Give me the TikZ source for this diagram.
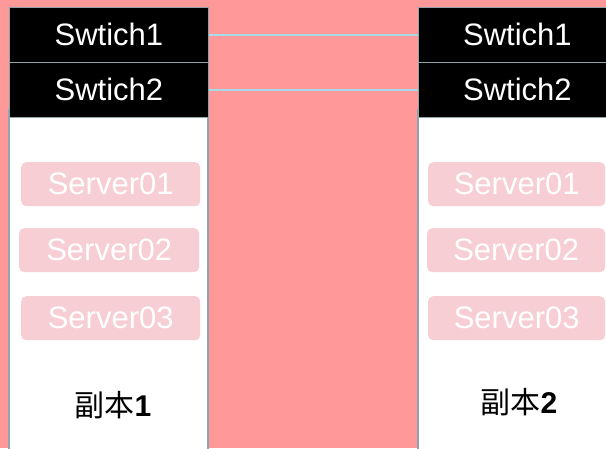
\documentclass[tikz,border=0pt]{standalone}
\usepackage{fontspec}
\setmainfont{Liberation Sans}
\newfontfamily\cjk{Noto Sans CJK SC}
\definecolor{bgpink}{HTML}{FF9999}
\definecolor{srvpink}{HTML}{F7CED3}
\definecolor{edgegray}{HTML}{8FA5AB}
\definecolor{linkblue}{HTML}{A6DAE6}
\tikzset{
  colbody/.style={draw=edgegray, fill=white, line width=1.6pt},
  switchbox/.style={fill=black, draw=edgegray, line width=0.8pt, text=white,
    minimum width=199pt, minimum height=55pt, inner sep=0pt, anchor=north west,
    font=\fontsize{31}{36}\selectfont},
  serverbox/.style={fill=srvpink, rounded corners=5pt, text=white,
    minimum height=44pt, inner sep=0pt, anchor=north west,
    font=\fontsize{31}{36}\selectfont},
  replica/.style={font=\fontsize{30}{35}\selectfont\bfseries},
  linkline/.style={draw=linkblue, line width=1.2pt}
}
\begin{document}
\begin{tikzpicture}[x=1pt,y=-1pt]
\useasboundingbox (0,0) rectangle (606,448);
\clip (0,0) rectangle (606,448);
\fill[bgpink] (0,0) rectangle (606,448);
% column bodies
\draw[colbody] (9,110) rectangle (208,460);
\draw[colbody] (418,110) rectangle (620,460);
% switches
\node[switchbox] (L1) at (9,7) {Swtich1};
\node[switchbox] (L2) at (9,62) {Swtich2};
\node[switchbox, minimum width=198pt] (R1) at (418,7) {Swtich1};
\node[switchbox, minimum width=198pt] (R2) at (418,62) {Swtich2};
% links
\draw[linkline] (L1.east) -- (R1.west);
\draw[linkline] (L2.east) -- (R2.west);
% servers left
\node[serverbox, minimum width=179pt] (LS1) at (21,162) {Server01};
\node[serverbox, minimum width=180pt] (LS2) at (19,228) {Server02};
\node[serverbox, minimum width=179pt] (LS3) at (21,296) {Server03};
% servers right
\node[serverbox, minimum width=177pt] (RS1) at (428,162) {Server01};
\node[serverbox, minimum width=178pt] (RS2) at (427,228) {Server02};
\node[serverbox, minimum width=177pt] (RS3) at (428,296) {Server03};
% replica labels
\node[replica] (C1) at (113,405) {{\cjk\mdseries 副本}1};
\node[replica] (C2) at (519,402) {{\cjk\mdseries 副本}2};
\end{tikzpicture}
\end{document}
